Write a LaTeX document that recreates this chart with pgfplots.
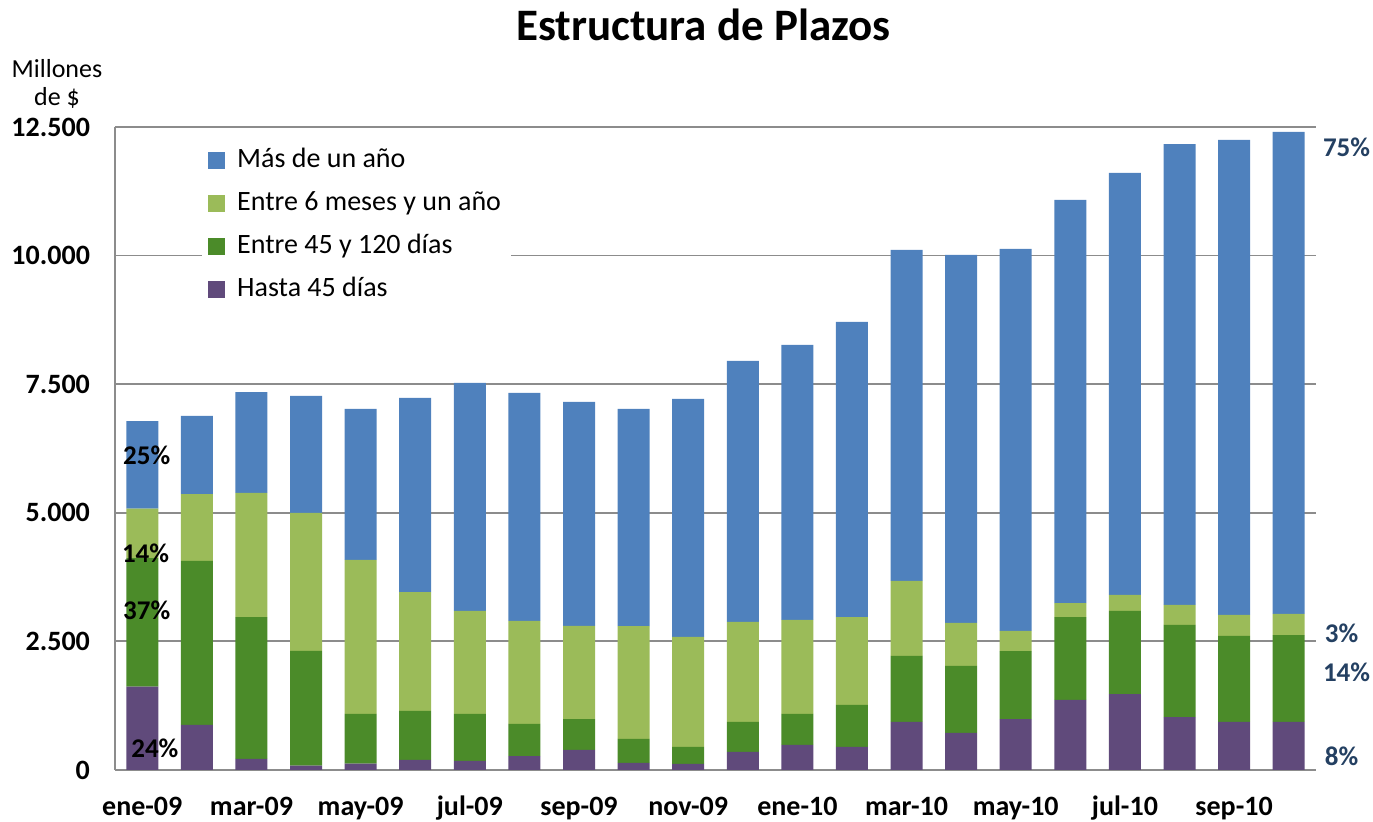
\documentclass[border=0pt]{standalone}
\usepackage{fontspec}
\setmainfont{Carlito}
\usepackage{pgfplots}
\pgfplotsset{compat=1.18}
\usepackage{pgfplotstable}

\definecolor{cBlue}{RGB}{79,129,189}
\definecolor{cLight}{RGB}{155,187,89}
\definecolor{cDark}{RGB}{75,139,41}
\definecolor{cPurple}{RGB}{96,74,123}
\definecolor{cGrid}{RGB}{140,140,140}
\definecolor{cNavy}{RGB}{36,64,98}

% monthly stock by maturity, millions of $ (ene-09 .. oct-10)
\pgfplotstableread{
x  hasta entre entreseis mas
0  1620  2500  960   1700
1  875   3188  1302  1517
2  214   2760  2411  1963
3  85    2230  2683  2275
4  125   965   2993  2936
5  195   952   2313  3772
6  175   914   2002  4432
7  270   624   2003  4432
8  390   600   1810  4355
9  136   467   2196  4219
10 117   330   2139  4626
11 350   583   1944  5074
12 486   603   1827  5346
13 447   817   1710  5735
14 933   1283  1458  6435
15 720   1302  836   7154
16 990   1323  389   7426
17 1361  1613  272   7835
18 1477  1614  311   8204
19 1030  1789  389   8961
20 933   1672  408   9234
21 933   1691  409   9370
}\plazos

\tikzset{pct/.style={font=\bfseries\fontsize{13.5}{14}\selectfont}}

\begin{document}
\begin{tikzpicture}
% fixed canvas: plot area starts at (0,0)
\useasboundingbox (-57.5pt,-26pt) rectangle (629pt,385pt);
\begin{axis}[
  at={(0pt,0pt)}, anchor=south west,
  scale only axis, width=600.5pt, height=321.5pt,
  ybar stacked, bar width=16pt,
  xmin=-0.5, xmax=21.5, ymin=0, ymax=12500,
  xtick={0,2,...,20},
  xticklabels={ene-09,mar-09,may-09,jul-09,sep-09,nov-09,ene-10,mar-10,may-10,jul-10,sep-10},
  ytick={0,2500,5000,7500,10000,12500},
  yticklabels={0,2.500,5.000,7.500,10.000,12.500},
  scaled y ticks=false,
  ymajorgrids, major grid style={cGrid, line width=0.9pt},
  axis x line=bottom, axis y line=left,
  axis line style={-, cGrid, line width=0.9pt},
  major tick length=0pt,
  tick label style={font=\bfseries\fontsize{14}{14}\selectfont},
  xticklabel style={anchor=base, inner sep=0pt, yshift=-23pt},
  yticklabel style={xshift=-9pt},
  clip=false,
  reverse legend,
  legend image code/.code={\fill[#1] (0pt,-3.5pt) rectangle (8.5pt,5pt);},
  legend style={at={(0.0723,0.9827)}, anchor=north west, draw=none, fill=white,
    inner sep=3pt, row sep=4.5pt, cells={anchor=west},
    /tikz/every odd column/.append style={column sep=4pt},
    font=\fontsize{14}{14}\selectfont,
    nodes={inner sep=2pt, text height=9.5pt, text depth=3.5pt}},
  after end axis/.code={
    \node[pct] at (axis cs:0.08,6124) {25\%};
    \node[pct] at (axis cs:0.06,4219) {14\%};
    \node[pct] at (axis cs:0.08,3110) {37\%};
    \node[pct] at (axis cs:0.23,428) {24\%};
    \node[pct, text=cNavy] at (axis cs:22.06,12111) {75\%};
    \node[pct, text=cNavy] at (axis cs:21.97,2663) {3\%};
    \node[pct, text=cNavy] at (axis cs:22.06,1905) {14\%};
    \node[pct, text=cNavy] at (axis cs:21.97,272) {8\%};
  },
]
\addplot[fill=cPurple, draw=none] table[x=x, y=hasta] {\plazos};
\addplot[fill=cDark, draw=none] table[x=x, y=entre] {\plazos};
\addplot[fill=cLight, draw=none] table[x=x, y=entreseis] {\plazos};
\addplot[fill=cBlue, draw=none] table[x=x, y=mas] {\plazos};
\legend{Hasta 45 días, Entre 45 y 120 días, Entre 6 meses y un año, Más de un año}

% title and unit
\node[font=\bfseries\fontsize{22.5}{22.5}\selectfont, yshift=51pt] at (rel axis cs:0.49,1) {Estructura de Plazos};
\node[align=center, font=\fontsize{13}{14}\selectfont, xshift=-29pt, yshift=21.5pt] at (rel axis cs:0,1) {Millones\\de \$};
\end{axis}
\end{tikzpicture}
\end{document}
